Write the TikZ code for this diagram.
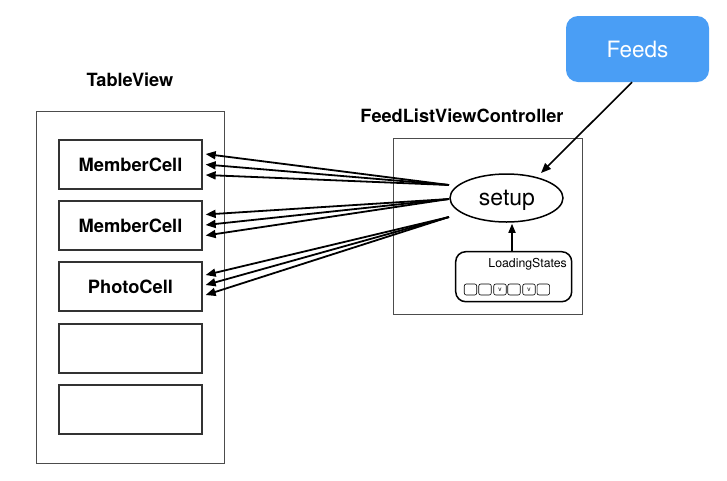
\documentclass[tikz,border=0pt]{standalone}
\usepackage{fontspec}
\setmainfont{TeX Gyre Heros}
\usetikzlibrary{arrows.meta,shapes.geometric}
\definecolor{feedblue}{RGB}{74,158,245}
\begin{document}
\begin{tikzpicture}[x=1pt,y=-1pt,
  outerbox/.style={draw=black!70,line width=1pt,minimum width=#1,inner sep=0pt},
  cellbox/.style={draw=black!80,line width=1.3pt,minimum width=143pt,minimum height=49pt,inner sep=0pt,font=\fontsize{18.3}{21}\selectfont\bfseries},
  titlelbl/.style={font=\fontsize{18.2}{21}\selectfont\bfseries,inner sep=0pt},
  arr/.style={line width=1.8pt,-{Triangle[length=10pt,width=8pt]}},
  minisq/.style={draw=black,line width=0.6pt,rounded corners=2pt,minimum width=12.5pt,minimum height=11pt,inner sep=0pt,font=\fontsize{6.5}{6.5}\selectfont}
]
\useasboundingbox (0,0) rectangle (727,480);
% TableView
\node[titlelbl,anchor=base] (tvlbl) at (130,86.5) {TableView};
\node[outerbox=188pt,minimum height=352pt] (tv) at (130,287) {};
\node[cellbox] (c1) at (130.5,164.5) {MemberCell};
\node[cellbox] (c2) at (130.5,225.5) {MemberCell};
\node[cellbox] (c3) at (130.5,286.5) {PhotoCell};
\node[cellbox] (c4) at (130.5,348.5) {};
\node[cellbox] (c5) at (130.5,409.5) {};
% FeedListViewController
\node[titlelbl,anchor=base] (fvlbl) at (462,122) {FeedListViewController};
\node[outerbox=189pt,minimum height=176pt] (fv) at (487.5,226) {};
\node[draw=black,line width=1.5pt,ellipse,minimum width=113pt,minimum height=48pt,inner sep=0pt] (setup) at (506.5,198) {};
\node[anchor=base,inner sep=0pt,font=\fontsize{23}{26}\selectfont] (setuplbl) at (507,205) {setup};
% Feeds
\node[fill=feedblue,rounded corners=12pt,minimum width=143pt,minimum height=66pt,inner sep=0pt,text=white,font=\fontsize{22.5}{26}\selectfont] (feeds) at (637.5,49) {Feeds};
% LoadingStates
\node[draw=black,line width=1.5pt,rounded corners=10pt,minimum width=116pt,minimum height=50pt,inner sep=0pt] (ls) at (513.7,276.7) {};
\node[anchor=base east,inner sep=0pt,font=\fontsize{12.3}{14}\selectfont] (lslbl) at (567,267) {LoadingStates};
\node[minisq] (q1) at (470.5,289.5) {};
\node[minisq] (q2) at (485,289.5) {};
\node[minisq] (q3) at (500,289.5) {v};
\node[minisq] (q4) at (514,289.5) {};
\node[minisq] (q5) at (529,289.5) {v};
\node[minisq] (q6) at (543.3,289.5) {};
% connectors
\coordinate (s1) at (449,185);
\coordinate (s2) at (449,199);
\coordinate (s3) at (449,217);
\draw[arr] (s1) -- ([xshift=3pt,yshift=10.5pt]c1.east);
\draw[arr] (s1) -- ([xshift=3pt,yshift=0pt]c1.east);
\draw[arr] (s1) -- ([xshift=3pt,yshift=-10.5pt]c1.east);
\draw[arr] (s2) -- ([xshift=3pt,yshift=11pt]c2.east);
\draw[arr] (s2) -- ([xshift=3pt,yshift=0.5pt]c2.east);
\draw[arr] (s2) -- ([xshift=3pt,yshift=-10pt]c2.east);
\draw[arr] (s3) -- ([xshift=3pt,yshift=11.5pt]c3.east);
\draw[arr] (s3) -- ([xshift=3pt,yshift=1.5pt]c3.east);
\draw[arr] (s3) -- ([xshift=3pt,yshift=-8.5pt]c3.east);
\coordinate (ft) at (541,173);
\draw[line width=1.6pt,-{Triangle[length=10pt,width=8pt]}] ([xshift=-5.5pt]feeds.south) -- (ft);
\draw[line width=1.6pt,-{Triangle[length=9pt,width=7pt]}] ([xshift=-1.7pt]ls.north) -- ([xshift=5.5pt,yshift=-1pt]setup.south);
\end{tikzpicture}
\end{document}
